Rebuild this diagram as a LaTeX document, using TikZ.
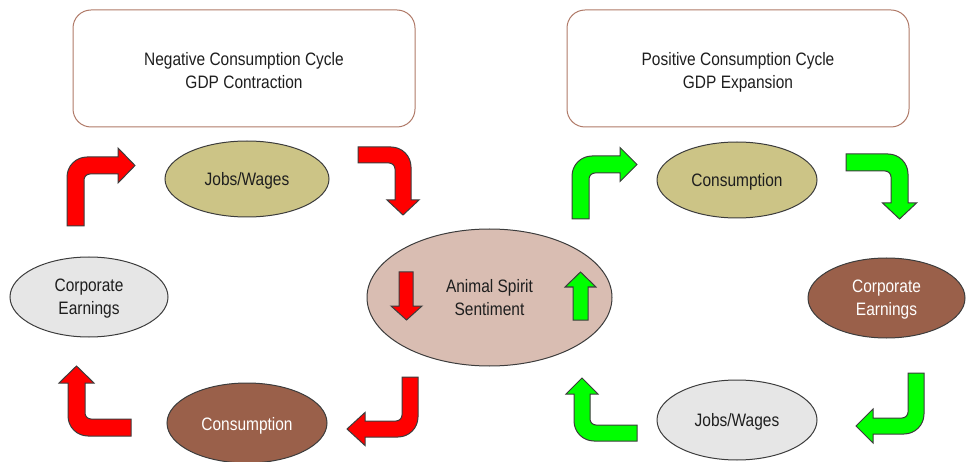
\documentclass[tikz,border=0pt]{standalone}
\usepackage{fontspec}
\setmainfont{Liberation Sans}[FakeStretch=0.86]
\usetikzlibrary{shapes.geometric}
\definecolor{olivefill}{RGB}{204,196,134}
\definecolor{spiritfill}{RGB}{217,189,178}
\definecolor{grayfill}{RGB}{230,230,230}
\definecolor{brownfill}{RGB}{154,96,74}
\definecolor{boxline}{RGB}{176,122,104}
\definecolor{outline}{RGB}{60,60,60}
\definecolor{txt}{RGB}{30,30,30}
\definecolor{redarrow}{RGB}{255,0,0}
\definecolor{greenarrow}{RGB}{0,255,0}
\newsavebox{\linesbox}
\newcommand{\lines}[2][2pt]{\sbox{\linesbox}{\begin{tabular}{@{}c@{}}#2\end{tabular}}\raisebox{-#1}[\ht\linesbox][\dp\linesbox]{\usebox{\linesbox}}}
\tikzset{
  box/.style={draw=boxline, line width=1pt, rounded corners=18pt, fill=white,
    minimum width=342pt, minimum height=117pt, inner sep=0pt,
    text=txt, font=\fontsize{18}{23}\selectfont},
  oval/.style={ellipse, draw=outline, line width=1pt, inner sep=0pt,
    text=txt, font=\fontsize{18}{23}\selectfont},
  arrowstyle/.style={draw=outline, line width=1pt, line join=miter},
}
\newcommand{\myarrow}[8]{%
\begin{scope}[shift={#2},rotate=#3]
\pgfmathsetmacro\aR{20}\pgfmathsetmacro\ar{6}%
\pgfmathsetmacro\kR{0.4477*\aR}%
\pgfmathsetmacro\kr{0.4477*\ar}%
\pgfmathsetmacro\hA{#4/2-#8}%
\pgfmathsetmacro\hB{#4/2+#8}%
\pgfmathsetmacro\tip{#6+#7}%
\pgfmathsetmacro\wr{#4+\ar}%
\pgfmathsetmacro\wk{#4+\kr}%
\pgfmathsetmacro\wh{#4/2}%
\draw[arrowstyle, fill=#1] (0,#5) -- (0,\aR) .. controls (0,\kR) and (\kR,0) .. (\aR,0)
  -- (#6,0) -- (#6,\hA) -- (\tip,\wh) -- (#6,\hB) -- (#6,#4) -- (\wr,#4)
  .. controls (\wk,#4) and (#4,\wk) .. (#4,\wr) -- (#4,#5) -- cycle;
\end{scope}}
\begin{document}
\begin{tikzpicture}[x=1pt,y=-1pt]
\useasboundingbox (0,0) rectangle (966,462);
% boxes
\node[box] (negbox) at (244,68.5) {\lines[4pt]{Negative Consumption Cycle\\GDP Contraction}};
\node[box] (posbox) at (738,68.5) {\lines[4pt]{Positive Consumption Cycle\\GDP Expansion}};
% ellipses
\node[oval, fill=olivefill, minimum width=164pt, minimum height=76pt] (jobsL) at (247,179) {\lines{Jobs/Wages}};
\node[oval, fill=olivefill, minimum width=160pt, minimum height=76pt] (consR) at (737,180) {\lines{Consumption}};
\node[oval, fill=spiritfill, minimum width=245pt, minimum height=137pt] (spirit) at (489.5,297.5) {\lines{Animal Spirit\\Sentiment}};
\node[oval, fill=grayfill, minimum width=158pt, minimum height=80pt] (corpL) at (89,297) {\lines[1.5pt]{Corporate\\Earnings}};
\node[oval, fill=brownfill, text=white, minimum width=157pt, minimum height=80pt] (corpR) at (886.5,298) {\lines[1.5pt]{Corporate\\Earnings}};
\node[oval, fill=brownfill, text=white, minimum width=160pt, minimum height=80pt] (consL) at (247,423) {\lines[3pt]{Consumption}};
\node[oval, fill=grayfill, minimum width=160pt, minimum height=80pt] (jobsR) at (737,420) {\lines{Jobs/Wages}};
% bent arrows
\myarrow{redarrow}{(67,157)}{0}{17}{69}{51}{17}{17.5}
\myarrow{redarrow}{(411,147)}{-90}{16}{53}{53}{15}{16}
\myarrow{redarrow}{(418,437)}{180}{16}{60}{53}{18}{16.5}
\myarrow{redarrow}{(68,436)}{90}{17}{63}{53}{17}{17.5}
\myarrow{greenarrow}{(572,156)}{0}{17}{63}{48}{17}{17}
\myarrow{greenarrow}{(908,154)}{-90}{17}{62}{49}{16}{17}
\myarrow{greenarrow}{(924,434)}{180}{16}{61}{51}{17}{17}
\myarrow{greenarrow}{(574,441)}{90}{16}{63}{47}{16}{16}
% straight arrows inside the sentiment ellipse
\draw[arrowstyle, fill=redarrow] (399,272) -- (413,272) -- (413,306) -- (422,306) -- (406.5,320) -- (391,306) -- (399,306) -- cycle;
\draw[arrowstyle, fill=greenarrow] (573,320) -- (588,320) -- (588,287) -- (596,287) -- (580.5,272) -- (565,287) -- (573,287) -- cycle;
\end{tikzpicture}
\end{document}
